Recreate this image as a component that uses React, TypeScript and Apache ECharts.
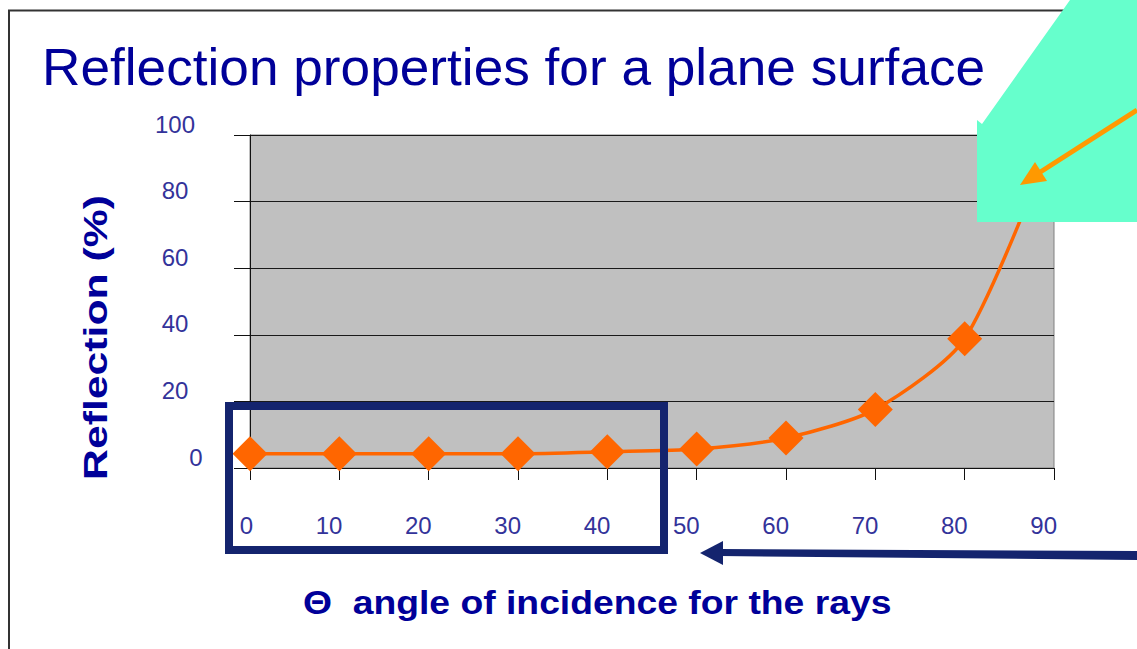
import React, { useEffect, useRef } from "react";
import * as echarts from "echarts";

const angles = [0, 10, 20, 30, 40, 50, 60, 70, 80, 90];
const reflection = [4.3, 4.3, 4.3, 4.3, 4.9, 5.7, 9.0, 17.6, 38.8, 100];
const titleText = "Reflection properties for a plane surface";
const xTitleText = "\u0398  angle of incidence for the rays";
const yTitleText = "Reflection (%)";

const NAVY = "#000099";
const LABEL = "#33339A";
const FONT = "'Liberation Sans', Arial, sans-serif";

export default function App() {
  const ref = useRef<HTMLDivElement>(null);
  useEffect(() => {
    if (!ref.current) return;
    const chart = echarts.init(ref.current, undefined, { renderer: "svg" });
    chart.setOption({
      animation: false,
      backgroundColor: "#ffffff",
      grid: {
        left: 250,
        right: 83,
        top: 135,
        bottom: 181,
        show: true,
        backgroundColor: "#C0C0C0",
        borderColor: "#808080",
        borderWidth: 1,
      },
      xAxis: {
        type: "value",
        min: 0,
        max: 90,
        interval: 10,
        axisLine: { show: true, lineStyle: { color: "#111", width: 1 } },
        axisTick: { show: true, length: 12, lineStyle: { color: "#111" } },
        splitLine: { show: false },
        axisLabel: {
          color: LABEL,
          fontFamily: FONT,
          fontSize: 24,
          align: "right",
          margin: 45,
          padding: [0, -3, 0, 0],
        },
      },
      yAxis: {
        type: "value",
        min: 0,
        max: 100,
        interval: 20,
        axisLine: { show: true, lineStyle: { color: "#111", width: 1 } },
        axisTick: { show: true, length: 16, lineStyle: { color: "#111" } },
        splitLine: { show: true, lineStyle: { color: "#1a1a1a", width: 1 } },
        axisLabel: {
          color: LABEL,
          fontFamily: FONT,
          fontSize: 24,
          align: "center",
          verticalAlign: "bottom",
          margin: 75,
          padding: [0, 0, -1, 0],
          formatter: (v: number) => (v === 0 ? "{z|0}" : String(v)),
          rich: {
            z: {
              color: LABEL,
              fontFamily: FONT,
              fontSize: 24,
              padding: [0, 0, 0, 42],
            },
          },
        },
      },
      series: [
        {
          type: "line",
          data: angles.map((a, i) => [a, reflection[i]]),
          smooth: 0.25,
          symbol: "diamond",
          symbolSize: 35,
          itemStyle: { color: "#FF6600" },
          lineStyle: { color: "#FF6600", width: 3.5 },
          z: 3,
        },
      ],
      graphic: [
        {
          type: "rect",
          z: 0,
          shape: { x: 9, y: 10.5, width: 1300, height: 800 },
          style: { fill: "none", stroke: "#333333", lineWidth: 2 },
        },
        {
          type: "text",
          z: 50,
          x: 42,
          y: 67,
          scaleX: 1.023,
          style: {
            text: titleText,
            font: `52px ${FONT}`,
            fill: NAVY,
            textAlign: "left",
            textVerticalAlign: "middle",
          },
        },
        {
          type: "text",
          z: 50,
          x: 303,
          y: 603,
          scaleX: 1.097,
          style: {
            text: xTitleText,
            font: `bold 34px ${FONT}`,
            fill: NAVY,
            textAlign: "left",
            textVerticalAlign: "middle",
          },
        },
        {
          type: "text",
          z: 50,
          x: 95,
          y: 337.5,
          rotation: Math.PI / 2,
          scaleX: 1.257,
          style: {
            text: yTitleText,
            font: `bold 34px ${FONT}`,
            fill: NAVY,
            textAlign: "center",
            textVerticalAlign: "middle",
          },
        },
        {
          type: "polygon",
          z: 100,
          shape: {
            points: [
              [977, 222],
              [977, 120],
              [982, 124],
              [1070, 0],
              [1137, 0],
              [1137, 222],
            ],
          },
          style: { fill: "#66FFCC" },
        },
        {
          type: "line",
          z: 101,
          shape: { x1: 1137, y1: 110, x2: 1038, y2: 173.5 },
          style: { stroke: "#FF9900", lineWidth: 5 },
        },
        {
          type: "polygon",
          z: 101,
          shape: {
            points: [
              [1020, 185],
              [1035, 162],
              [1047, 181],
            ],
          },
          style: { fill: "#FF9900" },
        },
        {
          type: "rect",
          z: 102,
          shape: { x: 229, y: 406, width: 435, height: 144 },
          style: { fill: "none", stroke: "#14246E", lineWidth: 8 },
        },
        {
          type: "polygon",
          z: 102,
          shape: {
            points: [
              [720, 549],
              [1137, 551],
              [1137, 560],
              [720, 556],
            ],
          },
          style: { fill: "#14246E" },
        },
        {
          type: "polygon",
          z: 102,
          shape: {
            points: [
              [700, 553],
              [723, 541],
              [723, 565],
            ],
          },
          style: { fill: "#14246E" },
        },
      ],
    });
    return () => chart.dispose();
  }, []);
  return (
    <div
      ref={ref}
      style={{ position: "fixed", left: 0, top: 0, width: 1137, height: 649 }}
    />
  );
}
